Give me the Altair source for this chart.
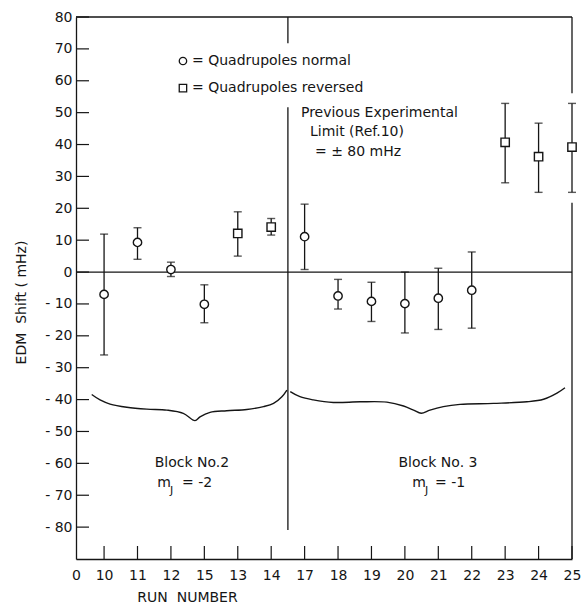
import altair as alt
import pandas as pd

# ---------------- data ----------------
run_labels = ["10", "11", "12", "15", "13", "14", "17", "18", "19", "20", "21", "22", "23", "24", "25"]
run_pos = list(range(len(run_labels)))          # evenly spaced category positions
origin_pos = -0.84                              # where the "0" corner label sits
mode = ["normal", "normal", "normal", "normal", "reversed", "reversed",
        "normal", "normal", "normal", "normal", "normal", "normal",
        "reversed", "reversed", "reversed"]
shift = [-7.0, 9.3, 0.8, -10.1, 12.1, 14.1, 11.1, -7.5, -9.2, -9.9, -8.2, -5.7, 40.7, 36.2, 39.2]
err_hi = [11.9, 13.9, 3.1, -4.0, 18.9, 16.8, 21.3, -2.3, -3.2, 0.0, 1.2, 6.3, 52.9, 46.7, 52.9]
err_lo = [-26.0, 4.0, -1.4, -15.9, 5.0, 11.6, 0.8, -11.6, -15.5, -19.1, -18.0, -17.6, 28.0, 25.0, 25.0]

y_ticks = list(range(-80, 81, 10))

# braces (block markers)
brace1_x = [-0.37, -0.12, 0.18, 0.68, 1.28, 1.88, 2.37, 2.72, 2.87, 3.17, 3.67, 4.27, 4.77, 5.07, 5.32, 5.47]
brace1_y = [-38.4, -40.1, -41.4, -42.4, -43.0, -43.3, -44.3, -46.6, -45.4, -44.0, -43.5, -43.1, -42.2, -41.2, -39.1, -37.0]
brace2_x = [5.57, 5.86, 6.26, 6.86, 7.66, 8.46, 8.96, 9.26, 9.49, 9.75, 10.15, 10.65, 11.65, 12.65, 13.15, 13.55, 13.79]
brace2_y = [-37.5, -39.1, -40.1, -40.9, -40.7, -40.8, -42.0, -43.3, -44.3, -43.3, -42.2, -41.5, -41.2, -40.7, -39.9, -38.0, -36.3]

# frame / divider segments (x1, x2, y1, y2) in data units
seg_x1 = [origin_pos, 14, 14, 5.5, 5.5, origin_pos]
seg_x2 = [14, 14, 14, 5.5, 5.5, 14]
seg_y1 = [80, 80, 21.7, 80, 51.7, 0]
seg_y2 = [80, 56.1, -90, 71.8, -80.9, 0]

# annotation texts
txt = ["= Quadrupoles normal", "= Quadrupoles reversed",
       "Previous Experimental", "Limit (Ref.10)", "= ± 80 mHz",
       "Block No.2", "Block No. 3",
       "m", "= -2", "m", "= -1"]
txt_x = [2.63, 2.63, 5.89, 6.16, 6.31, 2.63, 9.99, 1.59, 2.33, 9.22, 9.90]
txt_y = [66.2, 57.7, 49.9, 43.9, 37.7, -59.9, -59.9, -66.2, -66.2, -66.2, -66.2]
txt_align = ["left", "left", "left", "left", "left", "center", "center", "left", "left", "left", "left"]
sub_txt = ["J", "J"]
sub_x = [1.97, 9.60]
sub_y = [-68.6, -68.6]
legend_shape = ["circle", "square"]
legend_x = [2.36, 2.36]
legend_y = [66.2, 57.7]

NB = "\u00a0"
x_title = "RUN" + NB * 2 + "NUMBER"
y_title = "EDM" + NB * 2 + "Shift" + NB + "(" + NB + "mHz)"

# ---------------- tables ----------------
pts = pd.DataFrame({"pos": run_pos, "run": run_labels, "mode": mode,
                    "shift": shift, "hi": err_hi, "lo": err_lo})
caps = pd.DataFrame({"pos": run_pos * 2, "v": err_hi + err_lo})
ticks_y = pd.DataFrame({"v": y_ticks})
ticks_x = pd.DataFrame({"pos": run_pos})
braces = pd.DataFrame({
    "x": brace1_x + brace2_x,
    "y": brace1_y + brace2_y,
    "g": ["b1"] * len(brace1_x) + ["b2"] * len(brace2_x),
    "o": list(range(len(brace1_x))) + list(range(len(brace2_x))),
})
segs = pd.DataFrame({"x1": seg_x1, "x2": seg_x2, "y1": seg_y1, "y2": seg_y2})
texts = pd.DataFrame({"x": txt_x, "y": txt_y, "t": txt, "a": txt_align})
subs = pd.DataFrame({"x": sub_x, "y": sub_y, "t": sub_txt})
leg = pd.DataFrame({"x": legend_x, "y": legend_y, "shape": legend_shape})

W, H = 496, 542
INK = "#151515"
FONT = "DejaVu Sans"

label_arr = "[" + ",".join("'%s'" % s for s in run_labels) + "]"
x_scale = alt.Scale(domain=[origin_pos, 14], nice=False, zero=False)
y_scale = alt.Scale(domain=[-90, 80], nice=False, zero=False)

x_axis = alt.Axis(values=[origin_pos] + run_pos,
                  labelExpr="datum.value < 0 ? '0' : " + label_arr + "[round(datum.value)]",
                  tickSize=0, grid=False, domain=True, domainColor=INK, domainWidth=1.3,
                  labelPadding=9, labelFontSize=14, labelColor=INK, labelFont=FONT,
                  title=x_title, titleFont=FONT, titleFontSize=14, titleFontWeight="normal",
                  titleColor=INK, titleX=111, titleY=38, titleAlign="center",
                  titleBaseline="middle", labelFlush=False, labelOverlap=False)
y_axis = alt.Axis(values=y_ticks, tickSize=0, grid=False, domain=True, domainColor=INK,
                  domainWidth=1.3, labelPadding=4, labelFontSize=14, labelColor=INK,
                  labelFont=FONT,
                  labelExpr="datum.value < 0 ? '- ' + abs(datum.value) : '' + datum.value",
                  title=y_title, titleFont=FONT, titleFontSize=14,
                  titleFontWeight="normal", titleColor=INK, titleX=-55, titleY=285,
                  titleAlign="center", titleBaseline="middle", titleAngle=270,
                  labelFlush=False, labelOverlap=False)

X = lambda f: alt.X(f, type="quantitative", scale=x_scale, axis=x_axis)
Y = lambda f: alt.Y(f, type="quantitative", scale=y_scale, axis=y_axis)

ytick_layer = alt.Chart(ticks_y).mark_rule(color=INK, strokeWidth=1.2).encode(
    x=alt.value(0), x2=alt.value(13), y=Y("v"))
xtick_layer = alt.Chart(ticks_x).mark_rule(color=INK, strokeWidth=1.2).encode(
    x=X("pos"), y=alt.value(H), y2=alt.value(H - 13))

seg_layer = alt.Chart(segs).mark_rule(color=INK, strokeWidth=1.3).encode(
    x=X("x1"), x2="x2", y=Y("y1"), y2="y2")

brace_layer = alt.Chart(braces).mark_line(color=INK, strokeWidth=1.4,
                                          interpolate="catmull-rom").encode(
    x=X("x"), y=Y("y"), detail="g:N", order="o:Q")

bar_layer = alt.Chart(pts).mark_rule(color=INK, strokeWidth=1.3).encode(
    x=X("pos"), y=Y("lo"), y2="hi")
cap_layer = alt.Chart(caps).mark_tick(color=INK, orient="horizontal", size=8, thickness=1.4).encode(
    x=X("pos"), y=Y("v"))

pt_layer = alt.Chart(pts).mark_point(filled=False, fill="white", fillOpacity=1, color=INK,
                                     strokeWidth=1.4, size=70, opacity=1).encode(
    x=X("pos"), y=Y("shift"),
    shape=alt.Shape("mode:N", scale=alt.Scale(domain=["normal", "reversed"],
                                              range=["circle", "square"]), legend=None))

leg_layer = alt.Chart(leg).mark_point(filled=False, fill="white", fillOpacity=1, color=INK,
                                      strokeWidth=1.3, size=55, opacity=1).encode(
    x=X("x"), y=Y("y"),
    shape=alt.Shape("shape:N", scale=alt.Scale(domain=["circle", "square"],
                                               range=["circle", "square"]), legend=None))

text_left = alt.Chart(texts[texts.a == "left"]).mark_text(
    font=FONT, fontSize=14, color=INK, baseline="middle", align="left").encode(
    x=X("x"), y=Y("y"), text="t:N")
text_center = alt.Chart(texts[texts.a == "center"]).mark_text(
    font=FONT, fontSize=14, color=INK, baseline="middle", align="center").encode(
    x=X("x"), y=Y("y"), text="t:N")
sub_layer = alt.Chart(subs).mark_text(font=FONT, fontSize=11, color=INK, baseline="middle",
                                      align="left").encode(x=X("x"), y=Y("y"), text="t:N")

chart = alt.layer(
    ytick_layer, xtick_layer, seg_layer, brace_layer,
    bar_layer, cap_layer, pt_layer, leg_layer, text_left, text_center, sub_layer,
).properties(
    width=W, height=H,
    autosize=alt.AutoSizeParams(type="none"),
    padding={"left": 76, "top": 17, "right": 15, "bottom": 45},
    background="white",
).configure_view(strokeWidth=0)

chart.save("out.html", embed_options={"renderer": "svg", "actions": False})
